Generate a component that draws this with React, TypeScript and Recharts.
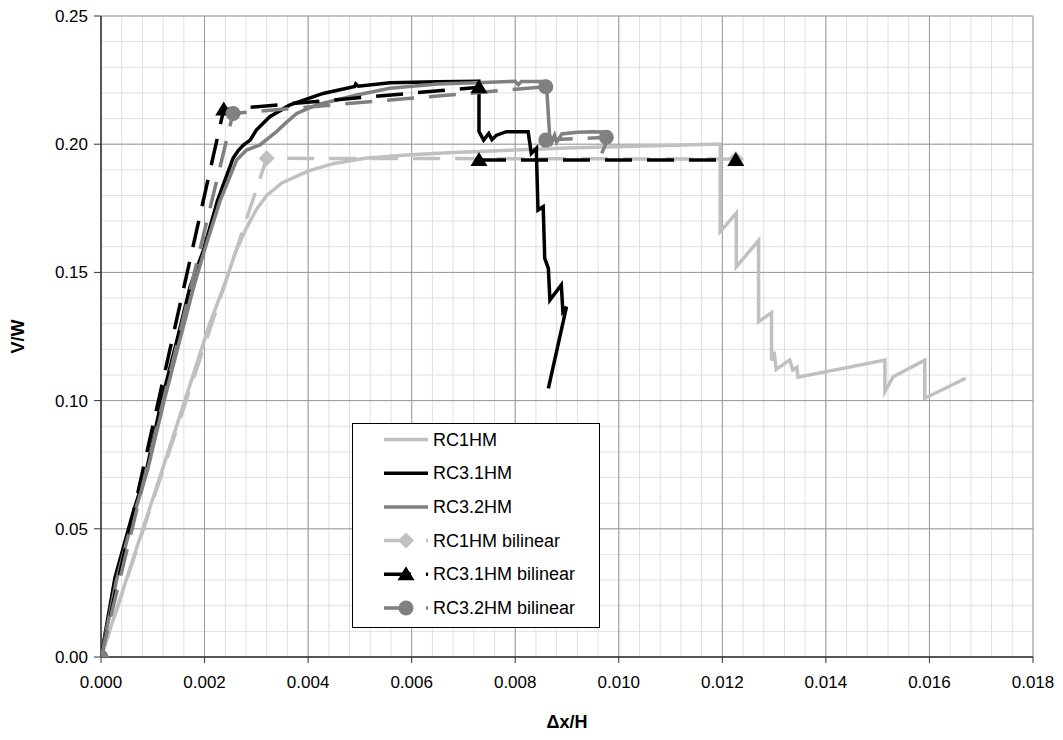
import { LineChart, Line, XAxis, YAxis, CartesianGrid } from "recharts";

// RC1HM test curve
const rc1X = [0, 0.00081, 0.00162, 0.0021, 0.0024, 0.0026, 0.0028, 0.003, 0.0032, 0.0035, 0.004, 0.0045, 0.0051, 0.0059, 0.0067, 0.009, 0.01196, 0.01196, 0.01227, 0.01227, 0.0127, 0.0127, 0.01295, 0.01295, 0.013, 0.01304, 0.0133, 0.01336, 0.01344, 0.01346, 0.01514, 0.01514, 0.0153, 0.01591, 0.01591, 0.0167];
const rc1Y = [0, 0.05, 0.1, 0.13, 0.146, 0.158, 0.167, 0.1745, 0.18, 0.185, 0.1895, 0.1925, 0.1945, 0.1958, 0.1967, 0.1985, 0.2001, 0.1659, 0.1731, 0.1522, 0.1624, 0.1308, 0.1343, 0.1156, 0.1191, 0.1122, 0.1158, 0.1119, 0.113, 0.1091, 0.1158, 0.1035, 0.1093, 0.1158, 0.1009, 0.1087];

// RC3.1HM test curve
const rc31X = [0, 0.00027, 0.0006, 0.00088, 0.00117, 0.00146, 0.00172, 0.00198, 0.00225, 0.00255, 0.00265, 0.00275, 0.00288, 0.003, 0.00326, 0.00365, 0.00429, 0.0049, 0.00492, 0.00497, 0.00558, 0.0065, 0.0073, 0.0073, 0.00739, 0.00749, 0.00755, 0.00764, 0.00783, 0.00825, 0.00831, 0.00841, 0.00841, 0.00844, 0.00854, 0.00857, 0.00864, 0.00867, 0.00889, 0.00892, 0.00899, 0.00864];
const rc31Y = [0, 0.031, 0.055, 0.073, 0.1, 0.123, 0.1444, 0.1587, 0.178, 0.1945, 0.1975, 0.1997, 0.2016, 0.2055, 0.2107, 0.2153, 0.2198, 0.2225, 0.2235, 0.2226, 0.224, 0.2244, 0.2245, 0.2049, 0.2016, 0.2042, 0.2018, 0.2035, 0.2049, 0.2049, 0.1964, 0.1984, 0.1958, 0.1743, 0.1756, 0.1555, 0.1516, 0.1392, 0.1451, 0.1347, 0.1366, 0.1048];

// RC3.2HM test curve
const rc32X = [0, 0.0003, 0.0006, 0.0009, 0.00122, 0.0015, 0.0018, 0.00201, 0.0023, 0.00262, 0.00281, 0.00307, 0.00339, 0.00358, 0.00378, 0.00416, 0.00494, 0.00558, 0.0065, 0.0075, 0.008, 0.00806, 0.00812, 0.0086, 0.00867, 0.0087, 0.00876, 0.0088, 0.0089, 0.0092, 0.0095, 0.0097, 0.0098, 0.00967];
const rc32Y = [0, 0.03, 0.053, 0.073, 0.1, 0.122, 0.145, 0.1594, 0.178, 0.1938, 0.1977, 0.1997, 0.2049, 0.2085, 0.212, 0.2153, 0.2192, 0.2218, 0.2235, 0.2242, 0.2245, 0.2232, 0.2245, 0.2245, 0.2016, 0.2005, 0.2035, 0.2008, 0.204, 0.2047, 0.2049, 0.2048, 0.2025, 0.1964];

// bilinear idealisations (null = gap in the line)
const rc1BiX = [0, 0.0032, 0.01226];
const rc1BiY = [0, 0.1945, 0.1942];
const rc31BiX = [0, 0.00237, 0.0073, 0.0073, 0.0073, 0.01226];
const rc31BiY = [0, 0.2135, 0.2222, null, 0.1938, 0.1938];
const rc32BiX = [0, 0.00255, 0.00859, 0.00859, 0.00859, 0.00976];
const rc32BiY = [0, 0.212, 0.2224, null, 0.2016, 0.2027];

const xTicks = [0, 0.002, 0.004, 0.006, 0.008, 0.01, 0.012, 0.014, 0.016, 0.018];
const yTicks = [0, 0.05, 0.1, 0.15, 0.2, 0.25];

const minorX = Array.from({ length: 46 }, (_, i) => +(i * 0.0004).toFixed(4));
const minorY = Array.from({ length: 26 }, (_, i) => +(i * 0.01).toFixed(2));

const zip = (xs: number[], ys: (number | null)[]) => xs.map((x, i) => ({ x, y: ys[i] }));

const LIGHT = "#c0c0c0";
const DARK = "#808080";
const FONT = "'Liberation Sans', Arial, sans-serif";

const triangle = (color: string) => (p: any) => {
  const { cx, cy, index } = p;
  if (cx == null || cy == null || p.value == null) return <g key={"t" + index} />;
  return <path key={"t" + index} d={`M${cx},${cy - 8} L${cx + 8.5},${cy + 6} L${cx - 8.5},${cy + 6} Z`} fill={color} />;
};
const circle = (color: string) => (p: any) => {
  const { cx, cy, index } = p;
  if (cx == null || cy == null || p.value == null) return <g key={"c" + index} />;
  return <circle key={"c" + index} cx={cx} cy={cy} r={7.5} fill={color} />;
};
const diamond = (color: string) => (p: any) => {
  const { cx, cy, index } = p;
  if (cx == null || cy == null || p.value == null) return <g key={"d" + index} />;
  return <path key={"d" + index} d={`M${cx},${cy - 8} L${cx + 8},${cy} L${cx},${cy + 8} L${cx - 8},${cy} Z`} fill={color} />;
};

const legendItems = [
  { name: "RC1HM", color: LIGHT, dash: false, marker: "" },
  { name: "RC3.1HM", color: "#000", dash: false, marker: "" },
  { name: "RC3.2HM", color: DARK, dash: false, marker: "" },
  { name: "RC1HM bilinear", color: LIGHT, dash: true, marker: "d" },
  { name: "RC3.1HM bilinear", color: "#000", dash: true, marker: "t" },
  { name: "RC3.2HM bilinear", color: DARK, dash: true, marker: "c" },
];

function ChartLegend() {
  return (
    <svg width={248} height={205} style={{ position: "absolute", left: 344, top: 415 }}>
      <rect x={0.5} y={0.5} width={247} height={204} fill="#fff" stroke="#000" />
      {legendItems.map((it, i) => {
        const cy = 16.5 + i * 33.7;
        const mx = 54;
        return (
          <g key={it.name}>
            <line x1={32} x2={76} y1={cy} y2={cy} stroke={it.color} strokeWidth={3.5} strokeDasharray={it.dash ? "27 15" : undefined} />
            {it.marker === "d" && <path d={`M${mx},${cy - 8} L${mx + 8},${cy} L${mx},${cy + 8} L${mx - 8},${cy} Z`} fill={it.color} />}
            {it.marker === "t" && <path d={`M${mx},${cy - 8} L${mx + 8.5},${cy + 6} L${mx - 8.5},${cy + 6} Z`} fill={it.color} />}
            {it.marker === "c" && <circle cx={mx} cy={cy} r={7.5} fill={it.color} />}
            <text x={81} y={cy} dominantBaseline="central" fontSize={18} fill="#000">{it.name}</text>
          </g>
        );
      })}
    </svg>
  );
}

export default function App() {
  return (
    <div style={{ position: "relative", width: 1047, height: 724, fontFamily: FONT }}>
      <LineChart width={1047} height={724} margin={{ top: 8, right: 22, left: 0, bottom: 0 }}>
        <CartesianGrid verticalValues={minorX} horizontalValues={minorY} stroke="#e0e0e0" />
        <CartesianGrid verticalValues={xTicks} horizontalValues={yTicks} stroke="#999" />
        <XAxis
          type="number"
          dataKey="x"
          domain={[0, 0.018]}
          ticks={xTicks}
          interval={0}
          allowDataOverflow
          height={75}
          tickFormatter={(v: number) => v.toFixed(3)}
          tick={{ fontSize: 17, fill: "#000" }}
          tickSize={6}
          tickMargin={13}
          axisLine={{ stroke: "#333", strokeWidth: 1.5 }}
          tickLine={{ stroke: "#333" }}
          label={(p: any) => {
            const vb = p.viewBox;
            return (
              <text x={vb.x + vb.width / 2} y={vb.y + 65} textAnchor="middle" dominantBaseline="central" fontSize={18} fontWeight="bold" fill="#000">
                Δx/H
              </text>
            );
          }}
        />
        <YAxis
          type="number"
          domain={[0, 0.25]}
          ticks={yTicks}
          interval={0}
          allowDataOverflow
          width={93}
          tickFormatter={(v: number) => v.toFixed(2)}
          tick={{ fontSize: 17, fill: "#000" }}
          tickSize={7}
          tickMargin={6}
          axisLine={{ stroke: "#333", strokeWidth: 1.5 }}
          tickLine={{ stroke: "#333" }}
          label={(p: any) => {
            const vb = p.viewBox;
            const cx = vb.x + 10;
            const cy = vb.y + vb.height / 2;
            return (
              <text x={cx} y={cy} transform={`rotate(-90 ${cx} ${cy})`} textAnchor="middle" dominantBaseline="central" fontSize={18} fontWeight="bold" fill="#000">
                V/W
              </text>
            );
          }}
        />
        <Line data={zip(rc1X, rc1Y)} dataKey="y" stroke={LIGHT} strokeWidth={3.5} dot={false} activeDot={false} isAnimationActive={false} />
        <Line data={zip(rc31X, rc31Y)} dataKey="y" stroke="#000" strokeWidth={3.5} dot={false} activeDot={false} isAnimationActive={false} />
        <Line data={zip(rc32X, rc32Y)} dataKey="y" stroke={DARK} strokeWidth={3.5} dot={false} activeDot={false} isAnimationActive={false} />
        <Line data={zip(rc1BiX, rc1BiY)} dataKey="y" stroke={LIGHT} strokeWidth={3.5} strokeDasharray="27 15" dot={diamond(LIGHT)} activeDot={false} isAnimationActive={false} />
        <Line data={zip(rc31BiX, rc31BiY)} dataKey="y" stroke="#000" strokeWidth={3.5} strokeDasharray="27 15" dot={triangle("#000")} activeDot={false} isAnimationActive={false} />
        <Line data={zip(rc32BiX, rc32BiY)} dataKey="y" stroke={DARK} strokeWidth={3.5} strokeDasharray="27 15" dot={circle(DARK)} activeDot={false} isAnimationActive={false} />
      </LineChart>
      <ChartLegend />
    </div>
  );
}
